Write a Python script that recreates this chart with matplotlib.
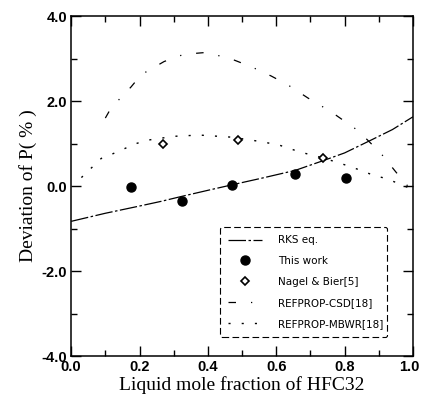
import matplotlib
matplotlib.use('Agg')
import matplotlib.pyplot as plt
from matplotlib.ticker import MultipleLocator

# measured points
work_x = [0.175, 0.325, 0.471, 0.656, 0.805]
work_y = [-0.02, -0.34, 0.03, 0.28, 0.20]
nagel_x = [0.268, 0.487, 0.738]
nagel_y = [0.98, 1.08, 0.66]

# correlations / equations of state
rks_x = [0.0, 0.1, 0.2, 0.263, 0.325, 0.4, 0.471, 0.56, 0.656, 0.738, 0.8, 0.877, 0.94, 1.0]
rks_y = [-0.83, -0.64, -0.47, -0.36, -0.24, -0.1, 0.03, 0.19, 0.37, 0.6, 0.78, 1.08, 1.33, 1.63]
csd_x = [0.1, 0.117, 0.175, 0.205, 0.272, 0.33, 0.39, 0.459, 0.526, 0.585, 0.634,
         0.693, 0.76, 0.84, 0.906, 0.95, 0.99]
csd_y = [1.6, 1.84, 2.33, 2.62, 2.93, 3.1, 3.14, 3.02, 2.81, 2.59, 2.38,
         2.07, 1.75, 1.3, 0.77, 0.33, -0.05]
mbwr_x = [0.03, 0.088, 0.122, 0.19, 0.224, 0.3, 0.375, 0.47, 0.56, 0.61, 0.67,
          0.738, 0.82, 0.886, 0.92, 0.958, 0.99]
mbwr_y = [0.2, 0.65, 0.76, 1.0, 1.08, 1.17, 1.2, 1.15, 1.04, 0.96, 0.8,
          0.66, 0.45, 0.25, 0.18, 0.06, -0.05]

xticks = [0.0, 0.2, 0.4, 0.6, 0.8, 1.0]
yticks = [-4.0, -2.0, 0.0, 2.0, 4.0]

fig = plt.figure(figsize=(4.21, 4.01), dpi=100)
ax = fig.add_axes([0.169, 0.112, 0.812, 0.848])

ax.plot(rks_x, rks_y, color='black', lw=0.9, linestyle=(0, (14, 2, 2, 2)), label='RKS eq.')
ax.plot(work_x, work_y, 'o', color='black', ms=6.5, label='This work')
ax.plot(nagel_x, nagel_y, 'D', mfc='white', mec='black', mew=1.2, ms=4, label='Nagel & Bier[5]')
ax.plot(csd_x, csd_y, color='black', lw=0.9, linestyle=(0, (6, 12, 1, 12)), label='REFPROP-CSD[18]')
ax.plot(mbwr_x, mbwr_y, color='black', lw=1.0, linestyle=(0, (1.5, 8)), label='REFPROP-MBWR[18]')

ax.set_xlim(0, 1)
ax.set_ylim(-4, 4)
ax.set_xticks(xticks)
ax.set_yticks(yticks)
ax.xaxis.set_minor_locator(MultipleLocator(0.1))
ax.yaxis.set_minor_locator(MultipleLocator(1))
ax.tick_params(which='both', direction='in', top=True, right=True, width=1.0)
ax.tick_params(which='major', length=7, pad=3)
ax.tick_params(which='minor', length=4)
tick_font = dict(family='Liberation Sans', fontweight='bold', fontsize=10.5)
# the last x label is drawn separately so it stays inside the figure
ax.set_xticklabels(['%.1f' % v for v in xticks[:-1]] + [''], **tick_font)
ax.annotate('%.1f' % xticks[-1], xy=(1, 0), xycoords='axes fraction',
            xytext=(-3, -3), textcoords='offset points', ha='center', va='top', **tick_font)
ax.set_yticklabels(['%.1f' % v for v in yticks], **tick_font)
for s in ax.spines.values():
    s.set_linewidth(1.1)

ax.set_xlabel('Liquid mole fraction of HFC32', family='Liberation Serif', fontsize=14, labelpad=1)
ax.set_ylabel('Deviation of P( % )', family='Liberation Serif', fontsize=14, labelpad=3)

leg = ax.legend(loc='lower left', bbox_to_anchor=(0.42, 0.04, 0.52, 0.36), mode='expand',
                prop={'family': 'DejaVu Sans', 'size': 7.5}, handlelength=3.2,
                labelspacing=1.05, borderpad=0.8, fancybox=True, edgecolor='black',
                framealpha=1, handletextpad=1.6)
leg.get_frame().set_linestyle((0, (6, 3)))
leg.get_frame().set_linewidth(0.8)

fig.savefig('out.png', dpi=100)
